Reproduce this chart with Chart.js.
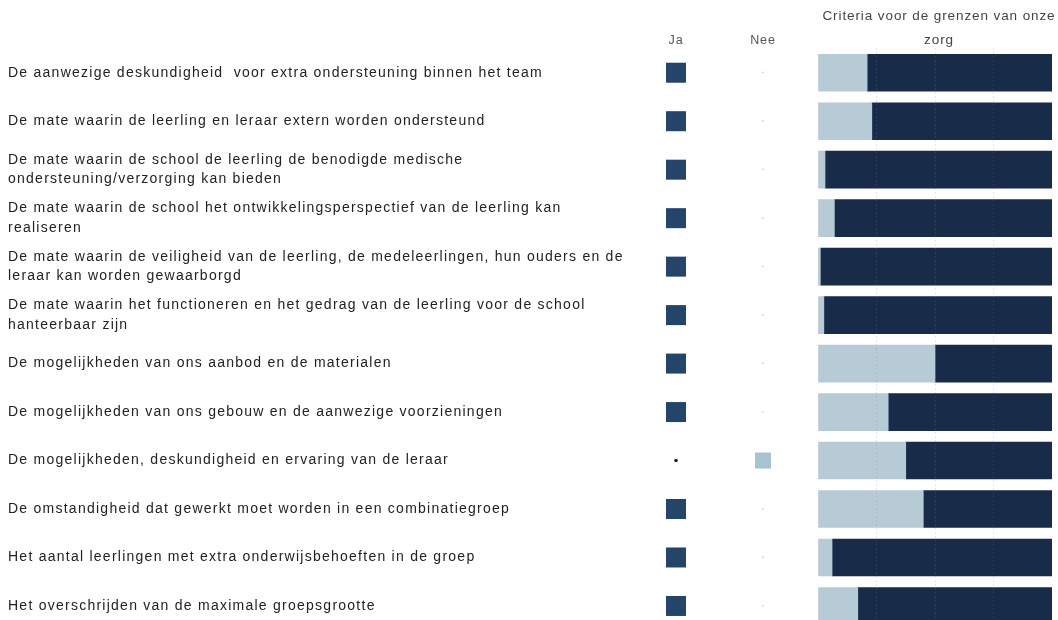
<!DOCTYPE html>
<html>
<head>
<meta charset="utf-8">
<script src="https://cdn.jsdelivr.net/npm/chart.js@4"></script>
<style>
  html, body { margin: 0; padding: 0; background: #fff; overflow: hidden; }
  #wrap { position: relative; width: 1058px; height: 640px; }
</style>
</head>
<body>
<div id="wrap"><canvas id="criteriaChart"></canvas></div>
<script>
const criteria = [
    "De aanwezige deskundigheid  voor extra ondersteuning binnen het team",
    "De mate waarin de leerling en leraar extern worden ondersteund",
    ["De mate waarin de school de leerling de benodigde medische", "ondersteuning/verzorging kan bieden"],
    ["De mate waarin de school het ontwikkelingsperspectief van de leerling kan", "realiseren"],
    ["De mate waarin de veiligheid van de leerling, de medeleerlingen, hun ouders en de", "leraar kan worden gewaarborgd"],
    ["De mate waarin het functioneren en het gedrag van de leerling voor de school", "hanteerbaar zijn"],
    "De mogelijkheden van ons aanbod en de materialen",
    "De mogelijkheden van ons gebouw en de aanwezige voorzieningen",
    "De mogelijkheden, deskundigheid en ervaring van de leraar",
    "De omstandigheid dat gewerkt moet worden in een combinatiegroep",
    "Het aantal leerlingen met extra onderwijsbehoeften in de groep",
    "Het overschrijden van de maximale groepsgrootte"
];
const neePct = [21, 23, 3, 7, 1, 2.5, 50, 30, 37.5, 45, 6, 17];
const jaPct  = [79, 77, 97, 93, 99, 97.5, 50, 70, 62.5, 55, 94, 83];
// answer columns: 1 = marked, 0 = empty
const jaMarks  = [1, 1, 1, 1, 1, 1, 1, 1, 0, 1, 1, 1];
const neeMarks = [0, 0, 0, 0, 0, 0, 0, 0, 1, 0, 0, 0];
const xTicks = [0, 25, 50, 75, 100];

const DARK = '#182b48';
const LIGHT = '#b6cbd6';
const FONT = '"Liberation Sans", Arial, sans-serif';

const answerColumns = {
    id: 'answerColumns',
    beforeDraw(chart) {
        chart.ctx.letterSpacing = '1.25px';
    },
    afterDraw(chart) {
        const ctx = chart.ctx;
        const y = chart.scales.y;
        const area = chart.chartArea;
        ctx.save();
        ctx.letterSpacing = '0.9px';
        ctx.font = '12.5px ' + FONT;
        ctx.fillStyle = '#555';
        ctx.textAlign = 'center';
        ctx.textBaseline = 'middle';
        ctx.fillText('Ja', 676, 41);
        ctx.fillText('Nee', 763, 41);
        ctx.fillStyle = '#444';
        ctx.font = '13.5px ' + FONT;
        const cx = (area.left + area.right) / 2 + 4;
        ctx.fillText('Criteria voor de grenzen van onze', cx, 16);
        ctx.fillText('zorg', cx, 40);

        criteria.forEach((c, i) => {
            const py = y.getPixelForValue(i);
            if (jaMarks[i]) {
                ctx.fillStyle = '#25446a';
                ctx.fillRect(666, py - 10, 20, 20);
            } else {
                ctx.fillStyle = '#222';
                ctx.beginPath(); ctx.arc(676, py, 1.8, 0, Math.PI * 2); ctx.fill();
            }
            if (neeMarks[i]) {
                ctx.fillStyle = '#a8c2d0';
                ctx.fillRect(755, py - 8, 16, 16);
            } else {
                ctx.fillStyle = '#ccc';
                ctx.fillRect(762, py - 1, 1.5, 1.5);
            }
        });
        ctx.restore();
    }
};

new Chart(document.getElementById('criteriaChart'), {
    type: 'bar',
    data: {
        labels: criteria,
        datasets: [
            { label: 'Nee', data: neePct, backgroundColor: LIGHT, barThickness: 37 },
            { label: 'Ja', data: jaPct, backgroundColor: DARK, barThickness: 37 }
        ]
    },
    options: {
        indexAxis: 'y',
        responsive: true,
        maintainAspectRatio: false,
        animation: false,
        layout: { padding: { left: 8, right: 6, top: 48.5, bottom: 3.5 } },
        plugins: { legend: { display: false }, title: { display: false }, tooltip: { enabled: false } },
        scales: {
            x: {
                stacked: true,
                min: 0, max: 100,
                afterBuildTicks: s => { s.ticks = xTicks.map(v => ({ value: v })); },
                ticks: { display: false },
                border: { display: false, dash: [1, 3] },
                grid: {
                    z: 1,
                    drawTicks: false,
                    color: c => (c.tick.value === 0 || c.tick.value === 100) ? 'rgba(0,0,0,0)' : 'rgba(120,130,140,0.4)'
                }
            },
            y: {
                stacked: true,
                afterFit: s => { s.width = 810; },
                grid: { display: false },
                border: { display: false },
                ticks: {
                    crossAlign: 'far',
                    padding: 0,
                    color: '#222',
                    font: { family: FONT, size: 14, lineHeight: 1.4 }
                }
            }
        }
    },
    plugins: [answerColumns]
});
</script>
</body>
</html>
